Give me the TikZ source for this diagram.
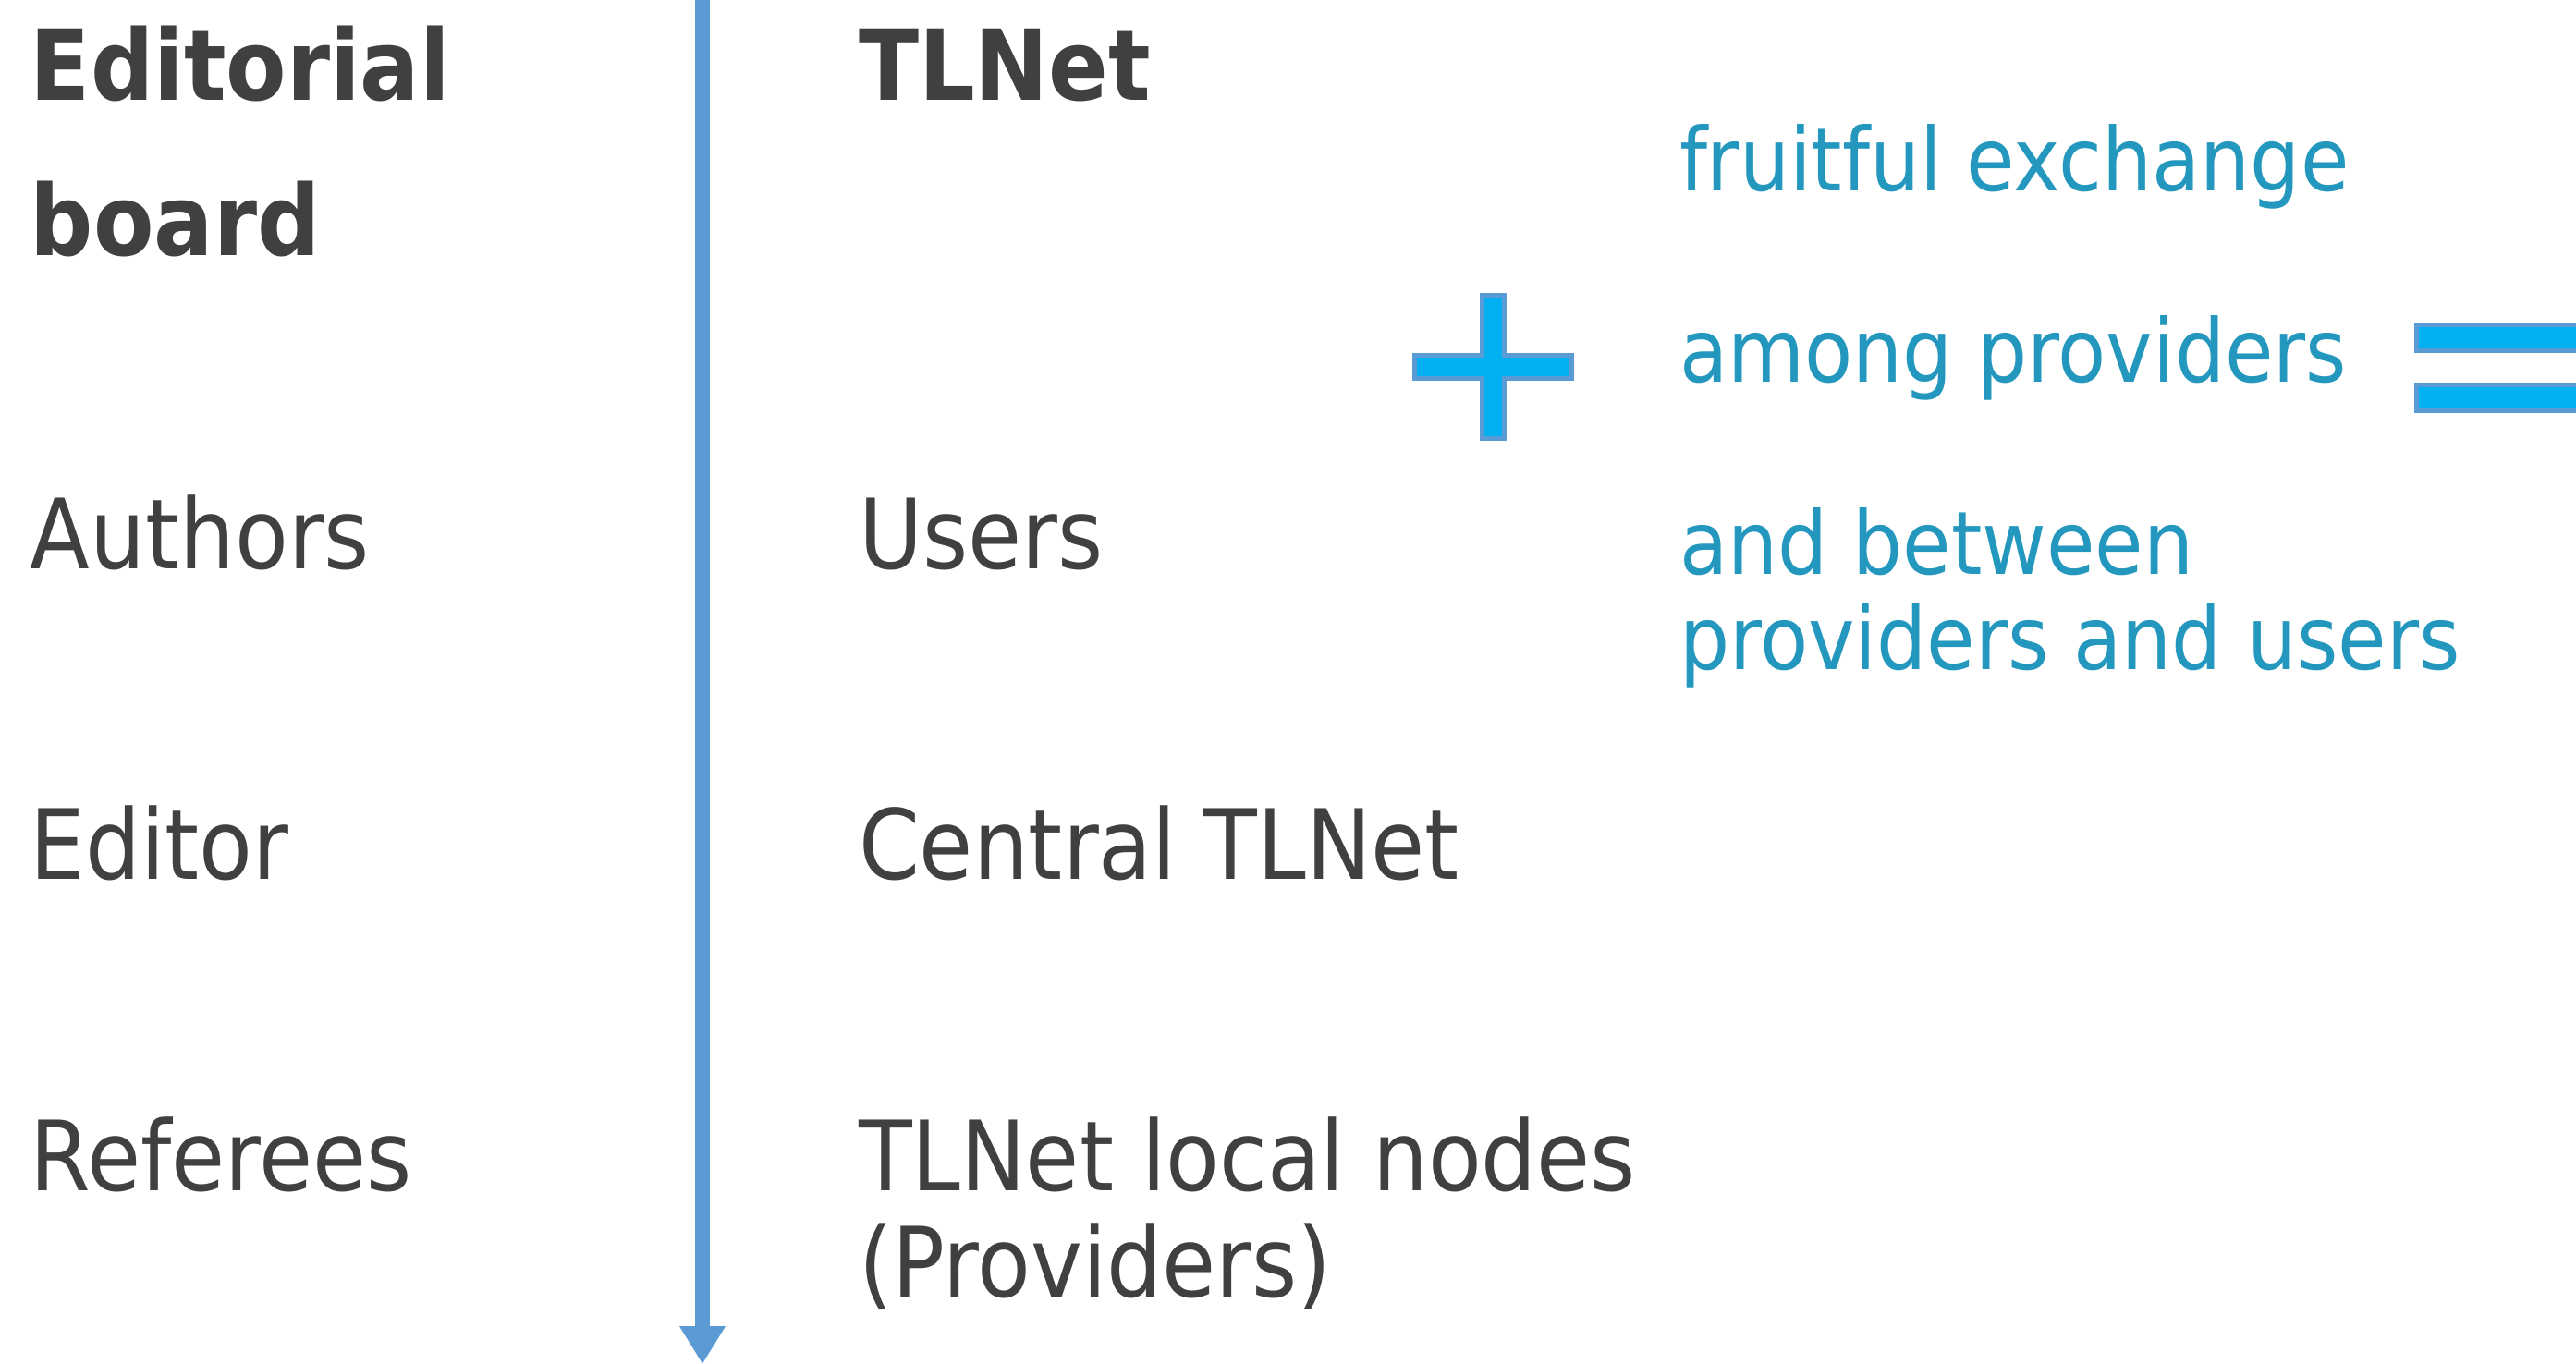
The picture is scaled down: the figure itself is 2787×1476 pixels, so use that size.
\documentclass[tikz,border=0pt]{standalone}
\usepackage{fontspec}
\setmainfont{DejaVu Sans Condensed}
\usetikzlibrary{arrows.meta}
\definecolor{darktext}{RGB}{64,64,64}
\definecolor{tealtext}{RGB}{35,151,189}
\definecolor{accentline}{RGB}{91,155,213}
\definecolor{plusfill}{RGB}{0,176,240}
\begin{document}
\begin{tikzpicture}[x=0.25pt,y=-0.25pt,
  lbl/.style={anchor=base west, inner sep=0pt, outer sep=0pt, text=darktext, font=\fontsize{26.25}{30}\selectfont},
  hdr/.style={lbl, font=\bfseries\fontsize{26.5}{30}\selectfont},
  note/.style={anchor=base west, inner sep=0pt, outer sep=0pt, text=tealtext, font=\fontsize{23.7}{28}\selectfont},
  opsign/.style={fill=plusfill, draw=accentline, line width=1.25pt, line join=miter},
  flow/.style={accentline, line width=4pt, -{Triangle[width=11.75pt,length=10.25pt]}}]
\useasboundingbox (0,0) rectangle (2787,1476);
\clip (0,0) rectangle (2787,1476);

% left column
\node[hdr] (ed1) at (33,109) {Editorial};
\node[hdr] (ed2) at (33,277) {board};
\node[lbl] (authors) at (33,615) {Authors};
\node[lbl] (editor) at (33,951) {Editor};
\node[lbl] (referees) at (33,1288) {Referees};

% time arrow
\coordinate (atop) at (760,-10);
\coordinate (abot) at (760,1476);
\draw[flow] (atop) -- (abot);

% right column
\node[hdr] (tlnet) at (929,109) {TLNet};
\node[lbl] (users) at (929,615) {Users};
\node[lbl] (central) at (929,951) {Central TLNet};
\node[lbl] (local1) at (929,1288) {TLNet local nodes};
\node[lbl] (local2) at (929,1403) {(Providers)};

% plus sign
\draw[opsign] (1603.5,319.5) -- (1627.5,319.5) -- (1627.5,384.5) -- (1700.5,384.5)
  -- (1700.5,409.5) -- (1627.5,409.5) -- (1627.5,474.5) -- (1603.5,474.5)
  -- (1603.5,409.5) -- (1530.5,409.5) -- (1530.5,384.5) -- (1603.5,384.5) -- cycle;

% teal notes
\node[note] (n1) at (1817,207) {fruitful exchange};
\node[note] (n2) at (1817,413) {among providers};
\node[note] (n3) at (1817,621) {and between};
\node[note] (n4) at (1817,724) {providers and users};

% equals sign
\draw[opsign] (2614.5,351.5) rectangle (2840,379.5);
\draw[opsign] (2614.5,416.5) rectangle (2840,444.5);
\end{tikzpicture}
\end{document}
